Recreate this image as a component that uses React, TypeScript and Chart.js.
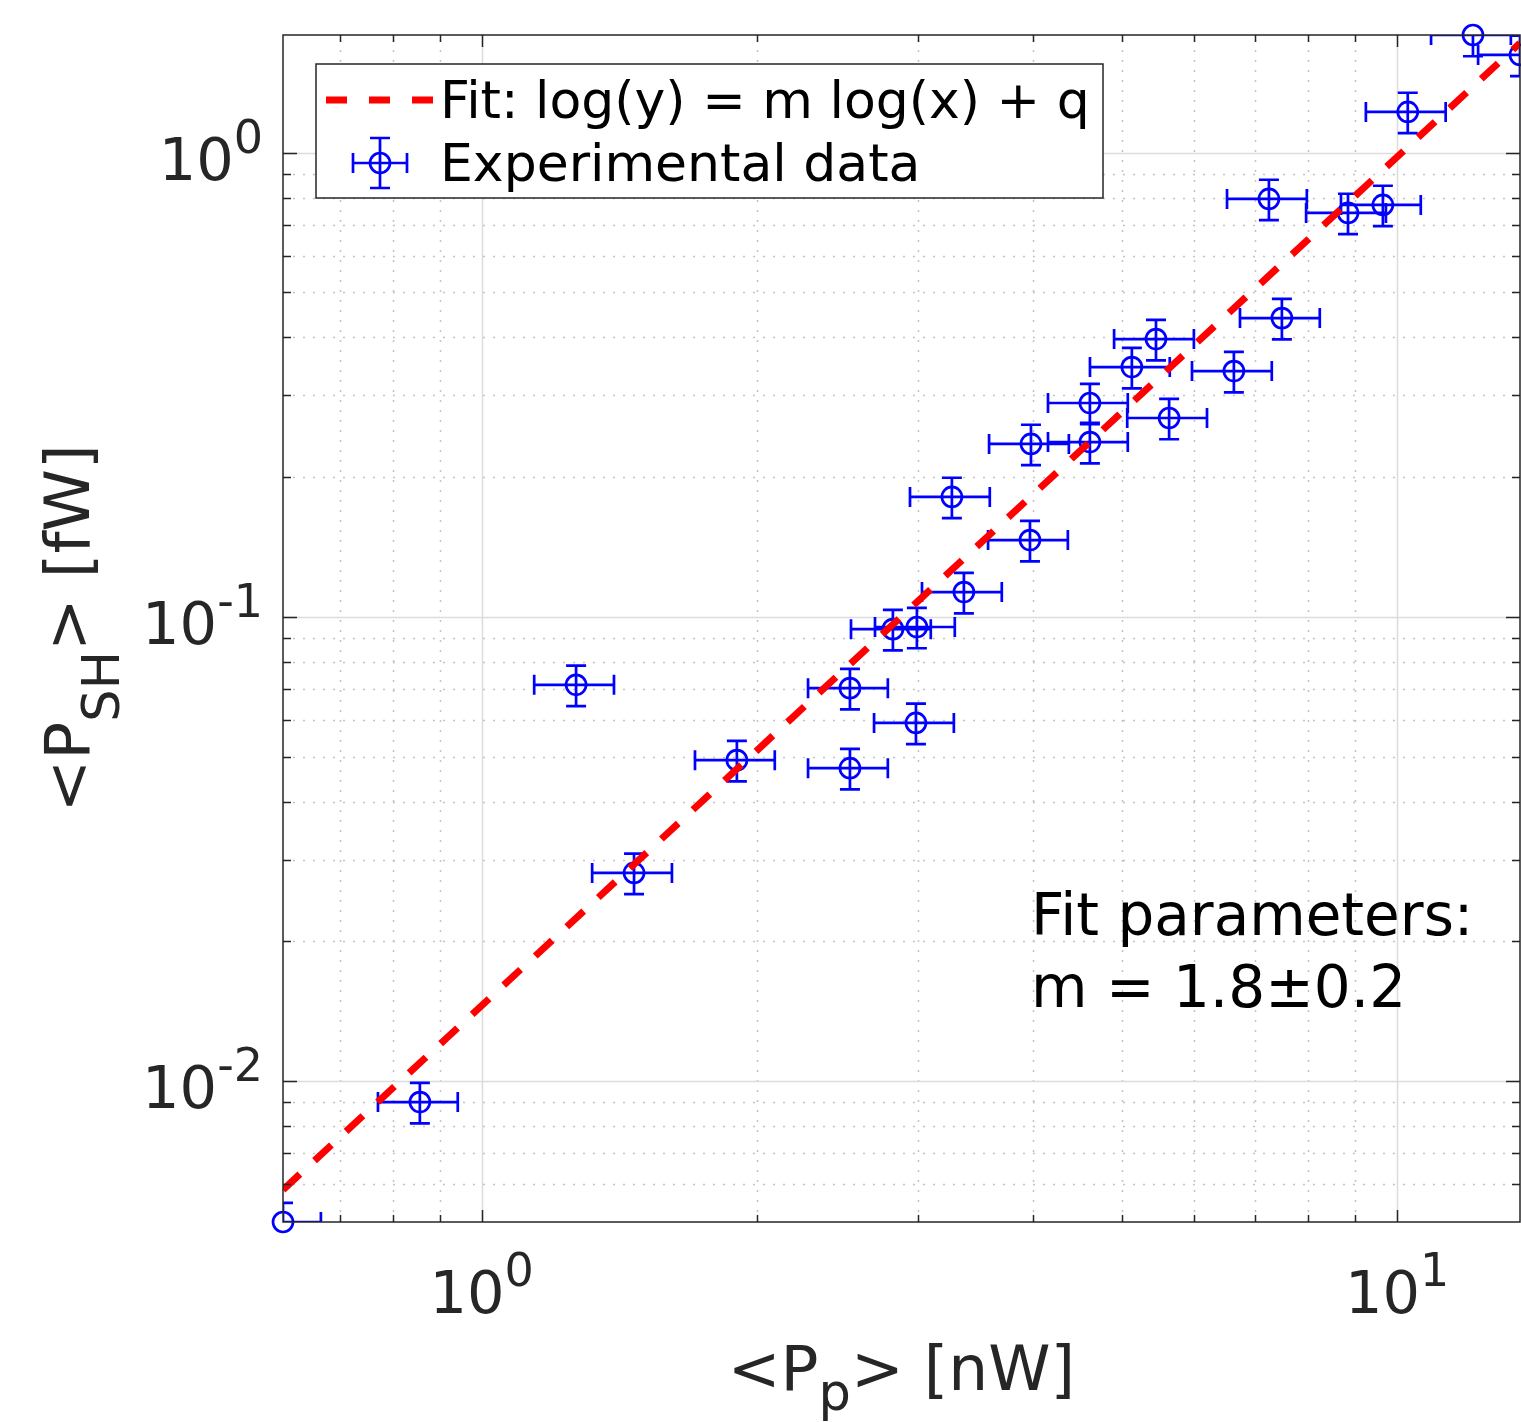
import { useEffect, useRef } from "react";
import { Chart, registerables } from "chart.js";

Chart.register(...registerables);

// ---------- data ----------
const pumpPower = [
  0.6067, 0.856, 1.268, 1.467, 1.9, 2.525, 2.525, 2.813, 2.988, 2.981, 3.363, 3.263, 3.971, 3.981,
  4.617, 4.617, 5.131, 5.452, 5.635, 6.632, 7.483, 7.243, 8.837, 9.647, 10.27, 12.1, 13.62,
];
const shPower = [
  0.00497, 0.00901, 0.0714, 0.02808, 0.04913, 0.07022, 0.04721, 0.0941, 0.0951, 0.0591, 0.1131,
  0.1813, 0.1464, 0.2358, 0.2889, 0.238, 0.3453, 0.3968, 0.2682, 0.3385, 0.4402, 0.795, 0.7416,
  0.7717, 1.224, 1.793, 1.624,
];
const pumpRelErr = 0.1;
const shRelErr = 0.1;

const fitX = [0.6067, 13.62];
const fitY = [0.00583, 1.723];

const xLimits = [0.6067, 13.62];
const yLimits = [0.00497, 1.793];

const xMajorTicks = [1, 10];
const xMajorExp = ["0", "1"];
const xMinorTicks = [0.7, 0.8, 0.9, 2, 3, 4, 5, 6, 7, 8, 9];
const yMajorTicks = [0.01, 0.1, 1];
const yMajorExp = ["-2", "-1", "0"];
const yMinorTicks = [
  0.006, 0.007, 0.008, 0.009, 0.02, 0.03, 0.04, 0.05, 0.06, 0.07, 0.08, 0.09, 0.2, 0.3, 0.4, 0.5,
  0.6, 0.7, 0.8, 0.9,
];

const legendLabels = ["Fit: log(y) = m log(x) + q", "Experimental data"];
const annotationLines = ["Fit parameters:", "m = 1.8\u00B10.2"];

// ---------- styles ----------
const FONT = '"DejaVu Sans", "Liberation Sans", sans-serif';
const AXIS_COLOR = "#262626";
const BLUE = "#0000ff";
const RED = "#ff0000";
const MARKER_LW = 2.7;

function drawPower(
  ctx: CanvasRenderingContext2D,
  base: string,
  exp: string,
  x: number,
  baseline: number,
  align: "center" | "right"
) {
  const mainFont = `59px ${FONT}`;
  const supFont = `46px ${FONT}`;
  ctx.font = mainFont;
  const wb = ctx.measureText(base).width;
  ctx.font = supFont;
  const we = ctx.measureText(exp).width;
  const total = wb + we;
  const start = align === "center" ? x - total / 2 : x - total;
  ctx.textAlign = "left";
  ctx.textBaseline = "alphabetic";
  ctx.fillStyle = AXIS_COLOR;
  ctx.font = mainFont;
  ctx.fillText(base, start, baseline);
  ctx.font = supFont;
  ctx.fillText(exp, start + wb, baseline - 27);
}

function drawSubText(
  ctx: CanvasRenderingContext2D,
  parts: { t: string; sub?: boolean }[],
  cx: number,
  baseline: number,
  subShift: number
) {
  const mainFont = `63px ${FONT}`;
  const subFont = `51px ${FONT}`;
  let total = 0;
  const widths = parts.map((p) => {
    ctx.font = p.sub ? subFont : mainFont;
    const w = ctx.measureText(p.t).width;
    total += w;
    return w;
  });
  let x = cx - total / 2;
  ctx.textAlign = "left";
  ctx.textBaseline = "alphabetic";
  ctx.fillStyle = AXIS_COLOR;
  parts.forEach((p, i) => {
    ctx.font = p.sub ? subFont : mainFont;
    ctx.fillText(p.t, x, baseline + (p.sub ? subShift : 0));
    x += widths[i];
  });
}

function drawErrorMarker(
  ctx: CanvasRenderingContext2D,
  cx: number,
  cy: number,
  xl: number,
  xr: number,
  yt: number,
  yb: number,
  cap: number
) {
  ctx.beginPath();
  ctx.moveTo(xl, cy);
  ctx.lineTo(xr, cy);
  ctx.moveTo(xl, cy - cap);
  ctx.lineTo(xl, cy + cap);
  ctx.moveTo(xr, cy - cap);
  ctx.lineTo(xr, cy + cap);
  ctx.moveTo(cx, yt);
  ctx.lineTo(cx, yb);
  ctx.moveTo(cx - cap, yt);
  ctx.lineTo(cx + cap, yt);
  ctx.moveTo(cx - cap, yb);
  ctx.lineTo(cx + cap, yb);
  ctx.stroke();
}

const matlabPlugin = {
  id: "matlabAxes",
  beforeDatasetsDraw(chart: any) {
    const { ctx, chartArea: a, scales } = chart;
    const xs = scales.x;
    const ys = scales.y;
    ctx.save();
    ctx.beginPath();
    ctx.rect(a.left, a.top, a.right - a.left, a.bottom - a.top);
    ctx.clip();

    // minor grid (dotted)
    ctx.strokeStyle = "#c2c2c2";
    ctx.lineWidth = 1.5;
    ctx.setLineDash([2, 8]);
    ctx.beginPath();
    xMinorTicks.forEach((v) => {
      const px = Math.round(xs.getPixelForValue(v)) + 0.5;
      ctx.moveTo(px, a.bottom);
      ctx.lineTo(px, a.top);
    });
    yMinorTicks.forEach((v) => {
      const py = Math.round(ys.getPixelForValue(v)) + 0.5;
      ctx.moveTo(a.left, py);
      ctx.lineTo(a.right, py);
    });
    ctx.stroke();

    // major grid (solid)
    ctx.setLineDash([]);
    ctx.strokeStyle = "#dcdcdc";
    ctx.lineWidth = 1.5;
    ctx.beginPath();
    xMajorTicks.forEach((v) => {
      const px = Math.round(xs.getPixelForValue(v)) + 0.5;
      ctx.moveTo(px, a.bottom);
      ctx.lineTo(px, a.top);
    });
    yMajorTicks.forEach((v) => {
      const py = Math.round(ys.getPixelForValue(v)) + 0.5;
      ctx.moveTo(a.left, py);
      ctx.lineTo(a.right, py);
    });
    ctx.stroke();

    // error bars
    ctx.strokeStyle = BLUE;
    ctx.lineWidth = MARKER_LW;
    for (let i = 0; i < pumpPower.length; i++) {
      const xv = pumpPower[i];
      const yv = shPower[i];
      const cx = xs.getPixelForValue(xv);
      const cy = ys.getPixelForValue(yv);
      const xl = xs.getPixelForValue(xv * (1 - pumpRelErr));
      const xr = xs.getPixelForValue(xv * (1 + pumpRelErr));
      const yt = ys.getPixelForValue(yv * (1 + shRelErr));
      const yb = ys.getPixelForValue(yv * (1 - shRelErr));
      drawErrorMarker(ctx, cx, cy, xl, xr, yt, yb, 10);
    }
    ctx.restore();
  },
  afterDatasetsDraw(chart: any) {
    const { ctx, chartArea: a, scales } = chart;
    const xs = scales.x;
    const ys = scales.y;
    ctx.save();

    // ticks (inside, all four sides)
    ctx.strokeStyle = AXIS_COLOR;
    ctx.lineWidth = 1.5;
    ctx.beginPath();
    const xTick = (v: number, len: number) => {
      const px = Math.round(xs.getPixelForValue(v)) + 0.5;
      ctx.moveTo(px, a.bottom);
      ctx.lineTo(px, a.bottom - len);
      ctx.moveTo(px, a.top);
      ctx.lineTo(px, a.top + len);
    };
    const yTick = (v: number, len: number) => {
      const py = Math.round(ys.getPixelForValue(v)) + 0.5;
      ctx.moveTo(a.left, py);
      ctx.lineTo(a.left + len, py);
      ctx.moveTo(a.right, py);
      ctx.lineTo(a.right - len, py);
    };
    xMajorTicks.forEach((v) => xTick(v, 12));
    xMinorTicks.forEach((v) => xTick(v, 7));
    yMajorTicks.forEach((v) => yTick(v, 14));
    yMinorTicks.forEach((v) => yTick(v, 8));
    ctx.stroke();

    // box
    ctx.strokeStyle = AXIS_COLOR;
    ctx.lineWidth = 1.5;
    ctx.strokeRect(a.left, a.top, a.right - a.left, a.bottom - a.top);

    // tick labels
    xMajorTicks.forEach((v, i) => {
      drawPower(ctx, "10", xMajorExp[i], xs.getPixelForValue(v), a.bottom + 91, "center");
    });
    yMajorTicks.forEach((v, i) => {
      drawPower(ctx, "10", yMajorExp[i], a.left - 20, ys.getPixelForValue(v) + 27, "right");
    });

    // axis titles
    const cxMid = (a.left + a.right) / 2;
    drawSubText(ctx, [{ t: "<P" }, { t: "p", sub: true }, { t: "> [nW]" }], cxMid, a.bottom + 168, 20);
    const cyMid = (a.top + a.bottom) / 2;
    ctx.save();
    ctx.translate(89, cyMid);
    ctx.rotate(-Math.PI / 2);
    drawSubText(ctx, [{ t: "<P" }, { t: "SH", sub: true }, { t: "> [fW]" }], 0, 0, 30);
    ctx.restore();

    // legend
    const lx = a.left + 33;
    const ly = a.top + 29;
    const lw = 787;
    const lh = 134;
    ctx.fillStyle = "#ffffff";
    ctx.fillRect(lx, ly, lw, lh);
    ctx.strokeStyle = AXIS_COLOR;
    ctx.lineWidth = 1.5;
    ctx.strokeRect(lx, ly, lw, lh);

    ctx.strokeStyle = RED;
    ctx.lineWidth = 7;
    ctx.lineCap = "butt";
    ctx.setLineDash([21, 22]);
    ctx.beginPath();
    ctx.moveTo(lx + 10, ly + 36);
    ctx.lineTo(lx + 118, ly + 36);
    ctx.stroke();
    ctx.setLineDash([]);

    ctx.strokeStyle = BLUE;
    ctx.lineWidth = MARKER_LW;
    const mx = lx + 64;
    const my = ly + 99;
    drawErrorMarker(ctx, mx, my, mx - 27, mx + 27, my - 25, my + 25, 10);
    ctx.beginPath();
    ctx.arc(mx, my, 10, 0, Math.PI * 2);
    ctx.stroke();

    ctx.fillStyle = "#000000";
    ctx.font = `52px ${FONT}`;
    ctx.textAlign = "left";
    ctx.textBaseline = "alphabetic";
    ctx.fillText(legendLabels[0], lx + 124, ly + 54);
    ctx.fillText(legendLabels[1], lx + 124, ly + 117);

    // annotation
    ctx.font = `58px ${FONT}`;
    ctx.fillStyle = "#000000";
    ctx.fillText(annotationLines[0], a.left + 748, a.top + 900);
    ctx.fillText(annotationLines[1], a.left + 748, a.top + 972);

    ctx.restore();
  },
};

export default function App() {
  const canvasRef = useRef<HTMLCanvasElement | null>(null);

  useEffect(() => {
    const canvas = canvasRef.current;
    if (!canvas) return;
    const chart = new Chart(canvas, {
      type: "scatter",
      data: {
        datasets: [
          {
            label: legendLabels[0],
            data: fitX.map((x, i) => ({ x, y: fitY[i] })),
            showLine: true,
            borderColor: RED,
            borderWidth: 7,
            borderDash: [23, 20],
            borderCapStyle: "butt",
            pointRadius: 0,
            fill: false,
            tension: 0,
          } as any,
          {
            label: legendLabels[1],
            data: pumpPower.map((x, i) => ({ x, y: shPower[i] })),
            showLine: false,
            pointStyle: "circle",
            pointRadius: 10,
            pointHoverRadius: 10,
            pointBorderWidth: MARKER_LW,
            pointBorderColor: BLUE,
            pointBackgroundColor: "rgba(0,0,0,0)",
            clip: false,
          } as any,
        ],
      },
      options: {
        responsive: false,
        animation: false,
        events: [],
        layout: {
          autoPadding: false,
          padding: { left: 283, top: 35, right: 1, bottom: 200 },
        },
        plugins: {
          legend: { display: false },
          tooltip: { enabled: false },
        },
        scales: {
          x: {
            type: "logarithmic",
            bounds: "data",
            min: xLimits[0],
            max: xLimits[1],
            display: false,
            afterBuildTicks: (scale: any) => {
              scale.min = xLimits[0];
              scale.max = xLimits[1];
            },
          },
          y: {
            type: "logarithmic",
            bounds: "data",
            min: yLimits[0],
            max: yLimits[1],
            display: false,
            afterBuildTicks: (scale: any) => {
              scale.min = yLimits[0];
              scale.max = yLimits[1];
            },
          },
        },
      } as any,
      plugins: [matlabPlugin as any],
    });
    return () => chart.destroy();
  }, []);

  return (
    <div style={{ position: "absolute", left: 0, top: 0, width: 1521, height: 1422, background: "#fff" }}>
      <canvas ref={canvasRef} width={1521} height={1422} style={{ display: "block" }} />
    </div>
  );
}
